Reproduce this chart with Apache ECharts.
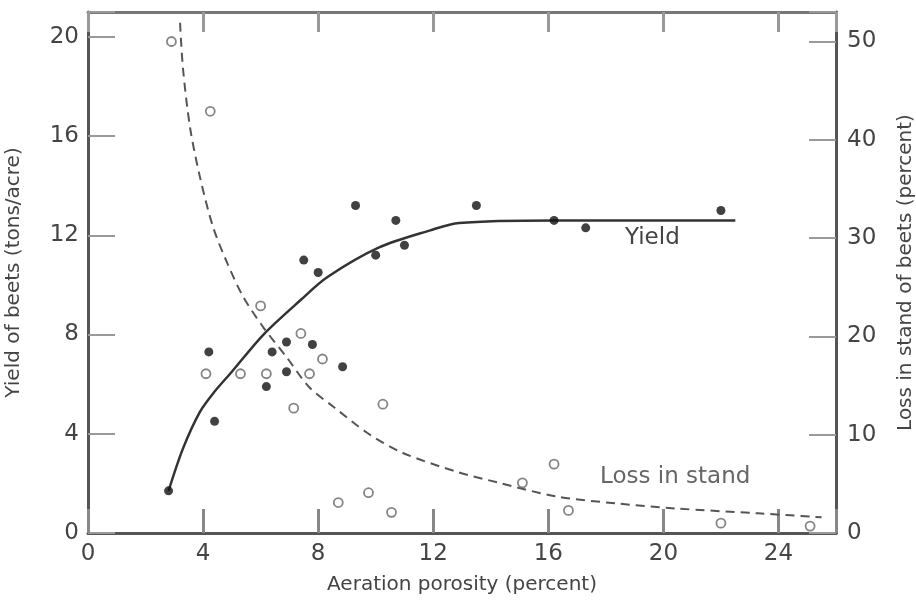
<!DOCTYPE html>
<html>
<head>
<meta charset="utf-8">
<script src="https://cdn.jsdelivr.net/npm/echarts@6/dist/echarts.min.js"></script>
<style>
  html, body { margin: 0; padding: 0; background: #fff; }
  #chart { width: 916px; height: 603px; }
</style>
</head>
<body>
<div id="chart"></div>
<script>
// yield of beets (tons/acre), filled dots, left axis
const yieldPoints = [
    [2.8, 1.7], [4.2, 7.3], [4.4, 4.5], [6.2, 5.9], [6.4, 7.3], [6.9, 7.7],
    [6.9, 6.5], [7.8, 7.6], [8.85, 6.7], [7.5, 11.0], [8.0, 10.5], [9.3, 13.2],
    [10.0, 11.2], [10.7, 12.6], [11.0, 11.6], [13.5, 13.2], [16.2, 12.6],
    [17.3, 12.3], [22.0, 13.0]
];
// loss in stand (percent), open circles, right axis
const lossPoints = [
    [2.9, 50.0], [4.25, 42.9], [6.0, 23.1], [4.1, 16.2], [5.3, 16.2], [6.2, 16.2],
    [7.7, 16.2], [7.4, 20.3], [8.15, 17.7], [7.15, 12.7], [10.25, 13.1],
    [8.7, 3.1], [9.75, 4.1], [10.55, 2.1], [16.2, 7.0], [15.1, 5.1], [16.7, 2.3],
    [22.0, 1.0], [25.1, 0.7]
];
// fitted curves
const yieldCurve = [
    [2.8, 1.7], [3.3, 3.4], [3.9, 4.9], [4.4, 5.7], [5.0, 6.5], [6.1, 8.0],
    [7.4, 9.4], [8.3, 10.3], [10.1, 11.5], [11.9, 12.2], [12.9, 12.5],
    [16.2, 12.6], [22.5, 12.6]
];
const lossCurve = [
    [3.2, 51.9], [3.3, 47.3], [3.55, 41.2], [3.9, 36.1], [4.35, 31.1], [4.85, 27.4],
    [5.4, 24.0], [6.1, 20.9], [6.9, 17.9], [7.7, 14.8], [8.55, 12.8], [9.7, 10.2],
    [10.9, 8.2], [12.85, 6.2], [14.3, 5.1], [16.3, 3.7], [18.4, 3.0], [20.4, 2.5],
    [23.3, 2.0], [25.5, 1.6]
];

const font = 'DejaVu Sans';
const ink = '#444';

const chart = echarts.init(document.getElementById('chart'));
chart.setOption({
    animation: false,
    textStyle: { fontFamily: font },
    grid: { left: 88, right: 80, top: 12, bottom: 70, outerBoundsMode: 'none' },
    xAxis: [
        {
            type: 'value', min: 0, max: 26, interval: 4,
            name: 'Aeration porosity (percent)', nameLocation: 'middle', nameGap: 42,
            nameTextStyle: { fontSize: 20, color: ink, fontFamily: font },
            axisLine: { onZero: false, lineStyle: { color: '#555', width: 3 } },
            axisTick: { inside: true, length: 24, lineStyle: { color: '#888', width: 3 } },
            axisLabel: {
                fontSize: 23, color: ink, margin: 10,
                formatter: v => (v % 4 === 0 ? String(v) : '')
            },
            splitLine: { show: false }
        },
        {
            type: 'value', position: 'top', min: 0, max: 26, interval: 4,
            axisLine: { show: true, onZero: false, lineStyle: { color: '#777', width: 3 } },
            axisTick: { inside: true, length: 20, lineStyle: { color: '#999', width: 3 } },
            axisLabel: { show: false },
            splitLine: { show: false }
        }
    ],
    yAxis: [
        {
            type: 'value', min: 0, max: 21, interval: 4,
            name: 'Yield of beets (tons/acre)', nameLocation: 'middle', nameGap: 64,
            nameTextStyle: { fontSize: 20, color: ink, fontFamily: font },
            axisLine: { show: true, onZero: false, lineStyle: { color: '#555', width: 3 } },
            axisTick: { show: true, inside: true, length: 27, lineStyle: { color: '#999', width: 2 } },
            axisLabel: {
                fontSize: 23, color: ink, margin: 9,
                formatter: v => (v % 4 === 0 ? String(v) : '')
            },
            splitLine: { show: false }
        },
        {
            type: 'value', min: 0, max: 53, interval: 10, position: 'right',
            name: 'Loss in stand of beets (percent)', nameLocation: 'middle', nameGap: 60,
            nameTextStyle: { fontSize: 20, color: ink, fontFamily: font },
            axisLine: { show: true, onZero: false, lineStyle: { color: '#555', width: 3 } },
            axisTick: { show: true, inside: true, length: 27, lineStyle: { color: '#999', width: 2 } },
            axisLabel: {
                fontSize: 23, color: ink, margin: 11,
                formatter: v => (v % 10 === 0 ? String(v) : '')
            },
            splitLine: { show: false }
        }
    ],
    series: [
        {
            type: 'line', data: yieldCurve, yAxisIndex: 0, smooth: 0.3,
            symbol: 'none', lineStyle: { color: '#333', width: 2.5 }, z: 2
        },
        {
            type: 'line', data: lossCurve, yAxisIndex: 1, smooth: 0.3,
            symbol: 'none', lineStyle: { color: '#555', width: 2, type: [9, 6] }, z: 2
        },
        {
            type: 'scatter', data: yieldPoints, yAxisIndex: 0,
            symbol: 'circle', symbolSize: 9,
            itemStyle: { color: '#111' }, z: 3
        },
        {
            type: 'scatter', data: lossPoints, yAxisIndex: 1,
            symbol: 'circle', symbolSize: 9,
            itemStyle: { color: '#fff', borderColor: '#666', borderWidth: 1.8 }, z: 3
        }
    ],
    graphic: [
        {
            type: 'text', left: 625, top: 227,
            style: { text: 'Yield', font: '23px ' + font, fill: ink }
        },
        {
            type: 'text', left: 600, top: 466,
            style: { text: 'Loss in stand', font: '23px ' + font, fill: '#666' }
        }
    ]
});
</script>
</body>
</html>
